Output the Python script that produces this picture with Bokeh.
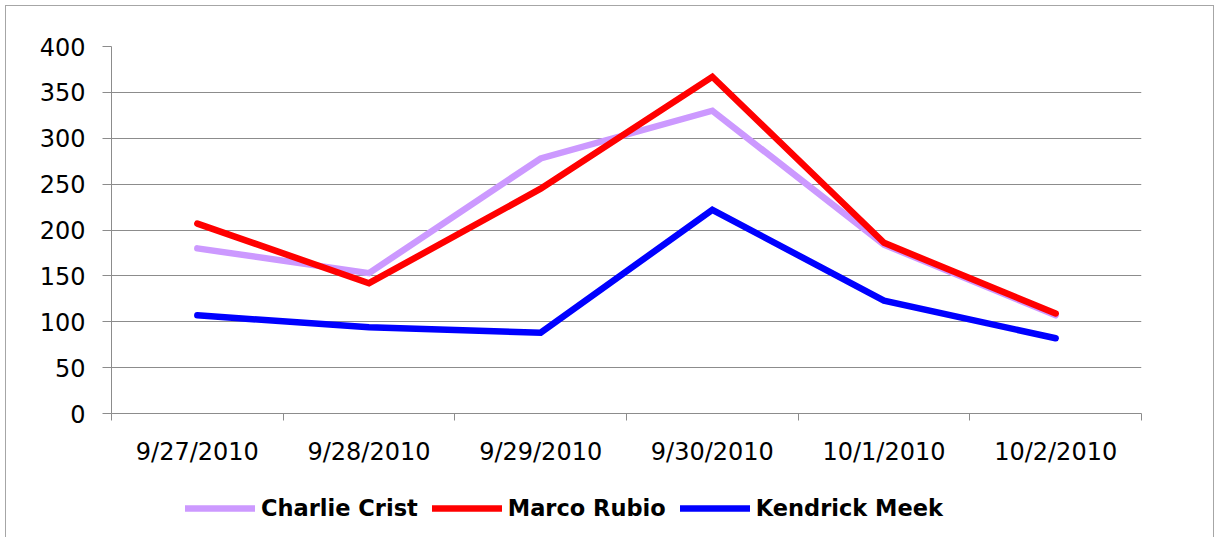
from bokeh.plotting import figure
from bokeh.layouts import column
from bokeh.models import ColumnDataSource, FixedTicker, Legend, LegendItem, Range1d
from bokeh.embed import file_html
from bokeh.resources import INLINE

# ---- data ----
dates = ["9/27/2010", "9/28/2010", "9/29/2010", "9/30/2010", "10/1/2010", "10/2/2010"]
charlie_crist = [180, 153, 278, 330, 184, 107]
marco_rubio = [207, 142, 245, 367, 186, 109]
kendrick_meek = [107, 94, 88, 222, 123, 82]
y_ticks = [0, 50, 100, 150, 200, 250, 300, 350, 400]

series = [
    ("Charlie Crist", charlie_crist, "#CC99FF"),
    ("Marco Rubio", marco_rubio, "#FF0000"),
    ("Kendrick Meek", kendrick_meek, "#0000FF"),
]

x_pos = [i + 0.5 for i in range(len(dates))]
boundaries = list(range(len(dates) + 1))

LW = 6.5
grid_gray = "#8c8c8c"
FIG_W = 1207

p = figure(width=FIG_W, height=467, output_backend="svg", toolbar_location=None,
           x_range=Range1d(0, len(dates)), y_range=Range1d(0, 400),
           min_border_left=105, min_border_right=72, min_border_top=40,
           min_border_bottom=60)
p.outline_line_color = None
p.background_fill_color = "white"
p.border_fill_color = "white"

for name, vals, color in series:
    src = ColumnDataSource(dict(x=x_pos, y=vals))
    p.line("x", "y", source=src, line_color=color, line_width=LW,
           line_cap="round", line_join="miter")

# x axis: labels at category centres, tick marks at boundaries
p.xaxis.ticker = FixedTicker(ticks=x_pos, minor_ticks=boundaries)
p.xaxis.major_label_overrides = {x: d for x, d in zip(x_pos, dates)}
p.xaxis.major_tick_out = 0
p.xaxis.major_tick_in = 0
p.xaxis.minor_tick_out = 7
p.xaxis.minor_tick_in = 0
p.xaxis.minor_tick_line_color = grid_gray
p.xaxis.axis_line_color = grid_gray
p.xaxis.major_label_standoff = 17
p.xaxis.major_label_text_font = "DejaVu Sans"
p.xaxis.major_label_text_font_size = "24px"
p.xaxis.major_label_text_color = "black"
p.xgrid.grid_line_color = None

# y axis
p.yaxis.ticker = FixedTicker(ticks=y_ticks)
p.yaxis.major_tick_out = 9
p.yaxis.major_tick_in = 0
p.yaxis.minor_tick_line_color = None
p.yaxis.major_tick_line_color = grid_gray
p.yaxis.axis_line_color = grid_gray
p.yaxis.major_label_standoff = 17
p.yaxis.major_label_text_font = "DejaVu Sans"
p.yaxis.major_label_text_font_size = "24px"
p.yaxis.major_label_text_color = "black"
p.ygrid.grid_line_color = grid_gray
p.ygrid.grid_line_width = 1

# legend strip below the chart (its renderers lie outside its visible ranges)
p2 = figure(width=FIG_W, height=64, output_backend="svg", toolbar_location=None,
            x_axis_location=None, y_axis_location=None, min_border=0,
            x_range=Range1d(-20, -10), y_range=Range1d(-20, -10))
p2.outline_line_color = None
p2.grid.grid_line_color = None
p2.background_fill_color = "white"
p2.border_fill_color = "white"

items = []
for name, vals, color in series:
    src = ColumnDataSource(dict(x=x_pos, y=vals))
    r = p2.line("x", "y", source=src, line_color=color, line_width=LW, line_cap="round")
    items.append(LegendItem(label=name, renderers=[r]))

legend = Legend(items=items, orientation="horizontal", location=(74, 16),
                glyph_width=70, glyph_height=22, label_height=22,
                label_standoff=6, spacing=14, padding=0, margin=0,
                label_text_font="DejaVu Sans", label_text_font_style="bold",
                label_text_font_size="22.5px", label_text_color="black",
                border_line_color=None, background_fill_alpha=0)
p2.add_layout(legend, "center")

inner = column(p, p2, spacing=0,
               styles={"border-style": "solid", "border-color": "#a6a6a6",
                       "border-width": "1.5px 1.5px 0 1.5px"})
layout = column(inner, spacing=0, styles={"padding": "5px 0 0 5px"})

open("out.html", "w").write(file_html(layout, INLINE))
